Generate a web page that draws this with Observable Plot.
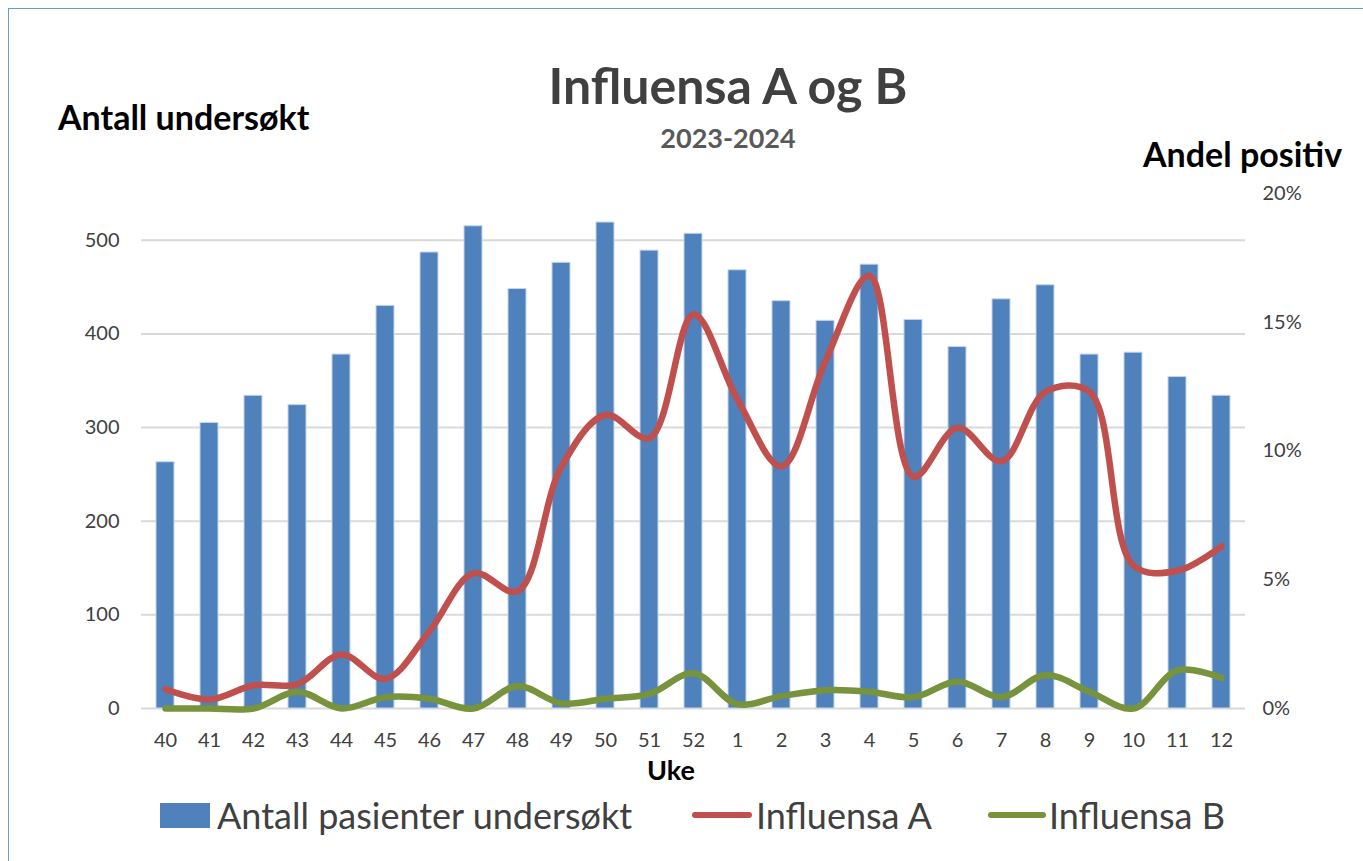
<!DOCTYPE html>
<html>
<head>
<meta charset="utf-8">
<script src="https://cdn.jsdelivr.net/npm/d3@7"></script>
<script src="https://cdn.jsdelivr.net/npm/@observablehq/plot@0.6"></script>
<style>
  html, body { margin: 0; padding: 0; background: #fff; }
  #wrap { position: relative; width: 1363px; height: 861px; overflow: hidden; font-family: Lato, "Open Sans", sans-serif; }
  #frame { position: absolute; left: 8px; top: 8px; width: 1400px; height: 900px; border-left: 1.5px solid #6d9bd1; border-top: 1.5px solid #6d9bd1; }
  .t { position: absolute; white-space: nowrap; line-height: 1; }
  #chart { position: absolute; left: 0; top: 0; }
  .sw { position: absolute; }
</style>
</head>
<body>
<div id="wrap">
  <div id="frame"></div>
  <div id="chart"></div>
  <div class="t" style="left:0;width:1456px;text-align:center;top:60px;font-size:50px;font-weight:700;color:#404040;">Influensa A og B</div>
  <div class="t" style="left:0;width:1456px;text-align:center;top:124px;font-size:27px;font-weight:700;color:#595959;">2023-2024</div>
  <div class="t" style="left:58px;top:100px;font-size:34px;font-weight:700;color:#000;">Antall undersøkt</div>
  <div class="t" style="left:1143px;top:137px;font-size:34px;font-weight:700;color:#000;">Andel positiv</div>
  <div class="t" style="left:647px;top:756px;font-size:27px;font-weight:700;color:#000;">Uke</div>
  <div class="sw" style="left:160px;top:803px;width:50px;height:25px;background:#4f81bd;"></div>
  <div class="t" style="left:217px;top:797px;font-size:36px;color:#404040;">Antall pasienter undersøkt</div>
  <div class="sw" style="left:692px;top:812px;width:60px;height:6px;border-radius:3px;background:#c0504d;"></div>
  <div class="t" style="left:756px;top:797px;font-size:36px;color:#404040;">Influensa A</div>
  <div class="sw" style="left:988px;top:812px;width:58px;height:6px;border-radius:3px;background:#77933c;"></div>
  <div class="t" style="left:1049px;top:797px;font-size:36px;color:#404040;">Influensa B</div>
</div>
<script>
const weeks = ["40","41","42","43","44","45","46","47","48","49","50","51","52","1","2","3","4","5","6","7","8","9","10","11","12"];
const patients = [263, 305, 334, 324, 378, 430, 487, 515, 448, 476, 519, 489, 507, 468, 435, 414, 474, 415, 386, 437, 452, 378, 380, 354, 334];
const influensaA = [0.75, 0.35, 0.9, 0.95, 2.1, 1.15, 3.0, 5.25, 4.55, 9.4, 11.4, 10.5, 15.3, 12.0, 9.4, 13.5, 16.8, 9.0, 10.9, 9.6, 12.3, 12.3, 5.55, 5.35, 6.3];
const influensaB = [0, 0, 0, 0.65, 0, 0.44, 0.38, 0, 0.87, 0.2, 0.38, 0.57, 1.37, 0.17, 0.48, 0.71, 0.65, 0.44, 1.05, 0.44, 1.3, 0.65, 0, 1.48, 1.19];
const leftTicks = [0, 100, 200, 300, 400, 500];
const rightTicks = [0, 5, 10, 15, 20];

const leftMax = 550;
const rightMax = 20;
const k = leftMax / rightMax; // percent -> left-axis units

const data = weeks.map((w, i) => ({week: w, patients: patients[i], a: influensaA[i], b: influensaB[i]}));

const chart = Plot.plot({
  width: 1363,
  height: 861,
  marginLeft: 141,
  marginRight: 118,
  marginTop: 193,
  marginBottom: 153,
  style: {fontFamily: "Lato, 'Open Sans', sans-serif", fontSize: "20px", color: "#595959", background: "transparent"},
  x: {domain: weeks, paddingInner: 0.6, paddingOuter: 0.3, label: null},
  y: {domain: [0, leftMax], label: null},
  marks: [
    Plot.gridY(leftTicks, {stroke: "#d9d9d9", strokeOpacity: 1, strokeWidth: 2}),
    Plot.barY(data, {x: "week", y: "patients", fill: "#4f81bd", stroke: "#c5d6ec", strokeWidth: 1}),
    Plot.line(data, {x: "week", y: d => d.a * k, curve: "catmull-rom", stroke: "#c0504d", strokeWidth: 6.5, strokeLinecap: "round"}),
    Plot.line(data, {x: "week", y: d => d.b * k, curve: "catmull-rom", stroke: "#77933c", strokeWidth: 6.5, strokeLinecap: "round"}),
    Plot.axisY(leftTicks, {anchor: "left", tickSize: 0, tickPadding: 22, label: null, fill: "#404040"}),
    Plot.axisY(rightTicks.map(t => t * k), {anchor: "right", tickSize: 0, tickPadding: 17, label: null, fill: "#404040", tickFormat: d => Math.round(d / k) + "%"}),
    Plot.axisX({tickSize: 0, tickPadding: 24, label: null, fill: "#404040"})
  ]
});
document.getElementById("chart").appendChild(chart);
</script>
</body>
</html>
